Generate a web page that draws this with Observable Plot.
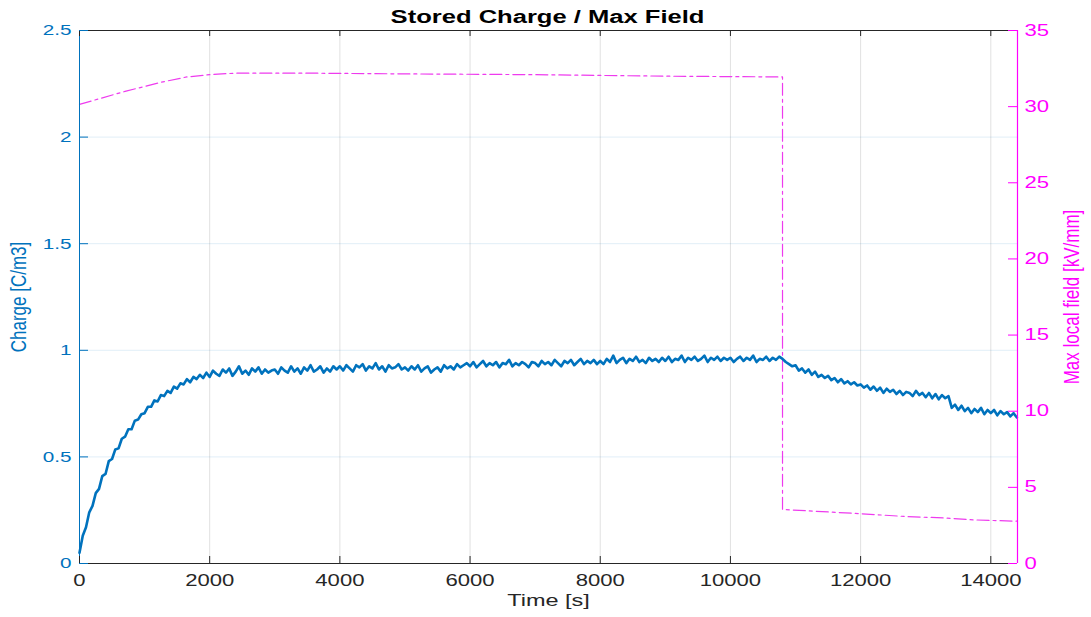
<!DOCTYPE html>
<html><head><meta charset="utf-8">
<script src="https://cdn.jsdelivr.net/npm/d3@7"></script>
<script src="https://cdn.jsdelivr.net/npm/@observablehq/plot@0.6"></script>
<style>
body{margin:0;background:#fff;font-family:"Liberation Sans",Arial,sans-serif;}
#title{height:30px;width:938px;margin-left:79px;text-align:center;line-height:30px;}
#title span{display:inline-block;font-weight:bold;font-size:18px;color:#000;transform:scaleX(1.42);position:relative;top:2px;}
</style></head>
<body>
<div id="title"><span>Stored Charge / Max Field</span></div>
<div id="chart"></div>
<script>
// ---- data ----
const chargeTimeStep = 50; // s between samples
const chargeValues = [
  0.05, 0.13, 0.17, 0.24, 0.27, 0.33, 0.35, 0.41, 0.42, 0.48, 0.49, 0.535, 0.54, 0.585, 0.595, 0.63, 0.63, 0.67, 0.675, 0.70,
  0.705, 0.735, 0.735, 0.765, 0.76, 0.79, 0.785, 0.81, 0.80, 0.83, 0.82, 0.845, 0.84, 0.865, 0.85, 0.875, 0.865, 0.885, 0.87, 0.895,
  0.875, 0.905, 0.89, 0.88, 0.91, 0.895, 0.915, 0.88, 0.90, 0.925, 0.89, 0.905, 0.885, 0.915, 0.90, 0.92, 0.89, 0.91, 0.895, 0.905,
  0.91, 0.89, 0.92, 0.905, 0.895, 0.925, 0.90, 0.915, 0.89, 0.92, 0.905, 0.93, 0.90, 0.91, 0.925, 0.895, 0.915, 0.90, 0.925, 0.91,
  0.925, 0.905, 0.93, 0.915, 0.90, 0.93, 0.92, 0.935, 0.905, 0.925, 0.915, 0.94, 0.91, 0.925, 0.90, 0.93, 0.915, 0.92, 0.935, 0.91,
  0.92, 0.905, 0.925, 0.91, 0.93, 0.90, 0.915, 0.925, 0.895, 0.91, 0.92, 0.90, 0.93, 0.915, 0.925, 0.91, 0.935, 0.92, 0.93, 0.94,
  0.925, 0.945, 0.92, 0.935, 0.95, 0.925, 0.94, 0.93, 0.945, 0.92, 0.94, 0.935, 0.955, 0.925, 0.94, 0.93, 0.945, 0.935, 0.92, 0.945,
  0.94, 0.925, 0.95, 0.935, 0.945, 0.93, 0.955, 0.94, 0.925, 0.95, 0.94, 0.955, 0.93, 0.945, 0.96, 0.935, 0.95, 0.94, 0.955, 0.935,
  0.95, 0.935, 0.96, 0.945, 0.975, 0.94, 0.955, 0.965, 0.94, 0.96, 0.95, 0.97, 0.945, 0.955, 0.94, 0.965, 0.95, 0.96, 0.945, 0.965,
  0.95, 0.97, 0.945, 0.96, 0.955, 0.975, 0.945, 0.965, 0.955, 0.97, 0.95, 0.96, 0.975, 0.945, 0.965, 0.955, 0.97, 0.95, 0.965, 0.955,
  0.965, 0.945, 0.96, 0.97, 0.95, 0.965, 0.955, 0.975, 0.945, 0.96, 0.955, 0.97, 0.95, 0.965, 0.955, 0.97, 0.96, 0.945, 0.935, 0.925,
  0.93, 0.905, 0.915, 0.895, 0.91, 0.885, 0.90, 0.875, 0.885, 0.87, 0.88, 0.86, 0.87, 0.85, 0.865, 0.845, 0.855, 0.84, 0.85, 0.835,
  0.84, 0.825, 0.835, 0.815, 0.83, 0.81, 0.825, 0.80, 0.82, 0.805, 0.815, 0.795, 0.81, 0.79, 0.805, 0.80, 0.785, 0.81, 0.79, 0.80,
  0.78, 0.80, 0.775, 0.795, 0.77, 0.79, 0.775, 0.785, 0.73, 0.745, 0.72, 0.74, 0.715, 0.73, 0.705, 0.725, 0.71, 0.73, 0.70, 0.72,
  0.705, 0.72, 0.695, 0.715, 0.70, 0.71, 0.69, 0.705, 0.685
];
const fieldTimes  = [0, 700, 1250, 1650, 2000, 2400, 3500, 5000, 7000, 9000, 10800, 10800, 12000, 12700, 13300, 13750, 14400];
const fieldValues = [30.15, 31.0, 31.6, 31.95, 32.1, 32.2, 32.2, 32.15, 32.1, 32.0, 31.95, 3.55, 3.27, 3.08, 2.99, 2.86, 2.78];
const xTicks = [0, 2000, 4000, 6000, 8000, 10000, 12000, 14000];
const chargeTicks = [0, 0.5, 1, 1.5, 2, 2.5];
const fieldTicks = [0, 5, 10, 15, 20, 25, 30, 35];
const xMax = 14410, chargeMax = 2.5, fieldMax = 35;

// ---- derived tables ----
const charge = chargeValues.map((v, i) => ({t: i * chargeTimeStep, v}));
const field = fieldTimes.map((t, i) => ({t, v: fieldValues[i]}));
const toLeft = f => f * chargeMax / fieldMax;

const W = 1091, H = 587, mL = 79, mR = 74, mT = 0, mB = 54;
const fw = W - mL - mR, fh = H - mT - mB;
const blue = "#0072BD", mag = "#FF00FF", dark = "#262626";
const font = "Liberation Sans, Arial, sans-serif";

const svg = Plot.plot({
  width: W, height: H,
  marginLeft: mL, marginRight: mR, marginTop: mT, marginBottom: mB,
  style: {overflow: "visible", fontFamily: font, background: "transparent"},
  x: {domain: [0, xMax]},
  y: {domain: [0, chargeMax]},
  marks: [
    Plot.gridX(xTicks, {stroke: "#000", strokeOpacity: 0.12}),
    Plot.gridY(chargeTicks, {stroke: blue, strokeOpacity: 0.12}),
    Plot.line(field, {x: "t", y: d => toLeft(d.v), stroke: "#EE3BEE", strokeWidth: 1.2, strokeDasharray: "12,4,3,4"}),
    Plot.line(charge, {x: "t", y: "v", stroke: blue, strokeWidth: 2.6, strokeLinejoin: "round", curve: "linear"}),
    // frame
    Plot.ruleY([chargeMax], {stroke: dark, strokeWidth: 1}),
    Plot.ruleY([0], {stroke: dark, strokeWidth: 1}),
    Plot.ruleX([0], {stroke: blue, strokeWidth: 1}),
    Plot.ruleX([xMax], {stroke: mag, strokeWidth: 1.2}),
    // inward ticks
    Plot.ruleX(xTicks, {stroke: dark, insetTop: fh - 7}),
    Plot.ruleX(xTicks, {stroke: dark, insetBottom: fh - 6}),
    Plot.ruleY(chargeTicks, {stroke: blue, insetRight: fw - 9}),
    Plot.ruleY(fieldTicks.map(toLeft), {stroke: mag, insetLeft: fw - 9}),
    // tick labels
    Plot.axisX(xTicks, {anchor: "bottom", tickSize: 0, tickPadding: 11, fontSize: 16, fill: dark, tickFormat: d => String(d), label: null}),
    Plot.axisY(chargeTicks, {anchor: "left", tickSize: 0, tickPadding: 8, fontSize: 15, fill: blue, tickFormat: d => String(d), label: null}),
    Plot.axisY(fieldTicks.map(toLeft), {anchor: "right", tickSize: 0, tickPadding: 7, fontSize: 16, fill: mag, tickFormat: d => String(Math.round(d * fieldMax / chargeMax)), label: null}),
    // axis titles
    Plot.text(["Time [s]"], {frameAnchor: "bottom", lineAnchor: "top", dy: 30, fontSize: 17, fill: dark}),
    Plot.text(["Charge [C/m3]"], {frameAnchor: "left", rotate: -90, dx: -61, textAnchor: "middle", lineAnchor: "middle", fontSize: 17, fill: blue}),
    Plot.text(["Max local field [kV/mm]"], {frameAnchor: "right", rotate: -90, dx: 54, textAnchor: "middle", lineAnchor: "middle", fontSize: 17, fill: mag})
  ]
});
document.getElementById("chart").append(svg);

// reference typography is stretched horizontally: widen horizontal texts, thicken rotated ones
svg.querySelectorAll("text").forEach(t => {
  const tr = t.getAttribute("transform") || "";
  if (tr.includes("rotate")) {
    t.setAttribute("transform", tr + " scale(1,1.3)");
  } else {
    const w = t.getComputedTextLength();
    if (w > 0) {
      t.setAttribute("textLength", (w * 1.38).toFixed(1));
      t.setAttribute("lengthAdjust", "spacingAndGlyphs");
    }
  }
});
</script>
</body></html>
